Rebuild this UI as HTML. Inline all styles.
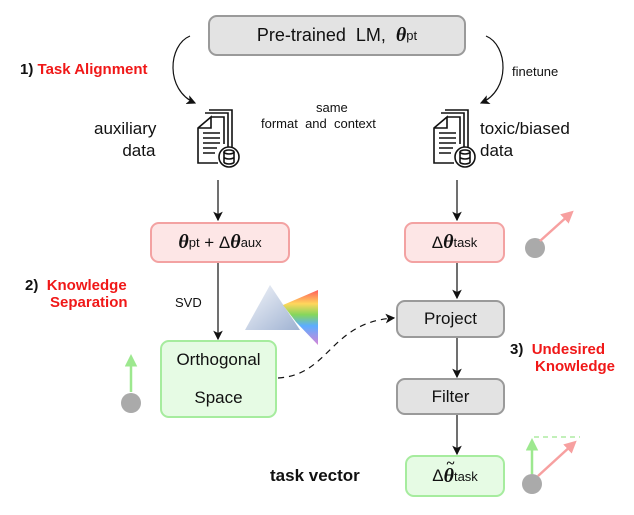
<!DOCTYPE html>
<html><head><meta charset="utf-8"><style>
html,body{margin:0;padding:0;background:#fff;}
body{width:634px;height:515px;position:relative;overflow:hidden;font-family:"Liberation Sans",sans-serif;}
.t{position:absolute;white-space:nowrap;color:#111;}
.box{position:absolute;box-sizing:border-box;border-radius:9px;display:flex;align-items:center;justify-content:center;font-size:17px;color:#111;}
.gray{background:#e3e3e3;border:2px solid #9a9a9a;}
.pink{background:#fde6e6;border:2px solid #f3a2a2;}
.green{background:#e6fbe4;border:2px solid #a6ec9e;}
.red{color:#f01818;}
b{font-weight:bold;}
sub{font-size:13px;vertical-align:-4px;}
i.th{font-family:"Liberation Serif",serif;font-weight:bold;font-style:italic;font-size:20px;position:relative;}
.tl{position:absolute;left:3px;top:-9px;font-style:normal;font-size:15px;}
</style></head><body>
<svg width="634" height="515" style="position:absolute;left:0;top:0">
<defs>
<marker id="a" markerWidth="8" markerHeight="8" refX="7" refY="4" orient="auto"><path d="M0,0 L8,4 L0,8 L2,4z" fill="#111"/></marker>
<marker id="p" markerWidth="5" markerHeight="5" refX="3" refY="2.5" orient="auto"><path d="M0,0 L5,2.5 L0,5z" fill="#f7a0a0"/></marker>
<marker id="g" markerWidth="5" markerHeight="5" refX="3" refY="2.5" orient="auto"><path d="M0,0 L5,2.5 L0,5z" fill="#9de88f"/></marker>
<linearGradient id="pr" x1="0" y1="0" x2="1" y2="1"><stop offset="0" stop-color="#f4f6fa"/><stop offset="1" stop-color="#9fb2d2"/></linearGradient>
<linearGradient id="rb" x1="0" y1="0" x2="0" y2="1"><stop offset="0" stop-color="#f33"/><stop offset=".25" stop-color="#fc3"/><stop offset=".45" stop-color="#6c3"/><stop offset=".65" stop-color="#39f"/><stop offset="1" stop-color="#c6c"/></linearGradient>
</defs>
<g fill="none" stroke="#111" stroke-width="1.2">
<path d="M190,36 C168,45 165,90 195,103" marker-end="url(#a)"/>
<path d="M486,36 C508,45 511,90 481,103" marker-end="url(#a)"/>
<path d="M218,180 L218,220" marker-end="url(#a)"/>
<path d="M457,180 L457,220" marker-end="url(#a)"/>
<path d="M218,263 L218,339" marker-end="url(#a)"/>
<path d="M457,263 L457,298" marker-end="url(#a)"/>
<path d="M457,338 L457,377" marker-end="url(#a)"/>
<path d="M457,415 L457,454" marker-end="url(#a)"/>
<path d="M278,378 C330,375 330,322 394,318" stroke-dasharray="6,5" marker-end="url(#a)"/>
</g>
<g id="doc" fill="none" stroke="#111" stroke-width="1.6">
<path d="M209,110 L232,110 L232,150"/>
<path d="M205,113 L228,113 L228,150"/>
<path d="M211,117 L224,117 L224,144 M218,163 L198,163 L198,128 L211,117 L211,128 L198,128"/>
<path d="M203,133h17M203,138h17M203,143h17M203,148h14M203,153h12"/>
<circle cx="229" cy="157" r="10" fill="#fff"/>
<ellipse cx="229" cy="152" rx="5" ry="2"/><path d="M224,152v10M234,152v10M224,157a5,2 0 0 0 10,0M224,162a5,2 0 0 0 10,0"/>
</g>
<use href="#doc" x="236" y="0"/>
<path d="M270,285 L245,330 L300,330 Z" fill="url(#pr)"/>
<path d="M283,305 L318,290 L318,345 L296,322 Z" fill="url(#rb)" opacity=".8"/>
<circle cx="535" cy="248" r="10" fill="#aaa"/>
<path d="M540,241 L570,214" stroke="#f7a0a0" stroke-width="2.5" marker-end="url(#p)"/>
<circle cx="131" cy="403" r="10" fill="#aaa"/>
<path d="M131,392 L131,359" stroke="#9de88f" stroke-width="2.5" marker-end="url(#g)"/>
<circle cx="532" cy="484" r="10" fill="#aaa"/>
<path d="M532,474 L532,443" stroke="#9de88f" stroke-width="2.5" marker-end="url(#g)"/>
<path d="M538,476 L573,444" stroke="#f7a0a0" stroke-width="2.5" marker-end="url(#p)"/>
<path d="M534,437 L580,437" stroke="#9de88f" stroke-width="1.3" stroke-dasharray="5,4"/>
</svg>
<div class="box gray" style="left:208px;top:15px;width:258px;height:41px;font-size:18px;">Pre-trained&nbsp; LM,&nbsp;<i class="th">&nbsp;θ</i><sub>pt</sub></div>
<div class="t" style="left:20px;top:61px;font-size:15px;"><b>1) <span class="red">Task Alignment</span></b></div>
<div class="t" style="left:512px;top:64px;font-size:13px;">finetune</div>
<div class="t" style="left:94px;top:118px;font-size:17px;line-height:22px;">auxiliary<br>&nbsp;&nbsp;&nbsp;&nbsp;&nbsp;&nbsp;data</div>
<div class="t" style="left:480px;top:118px;font-size:17px;line-height:22px;">toxic/biased<br>data</div>
<div class="t" style="left:316px;top:100px;font-size:13px;">same</div>
<div class="t" style="left:261px;top:116px;font-size:13px;">format&nbsp; and&nbsp; context</div>
<div class="box pink" style="left:150px;top:222px;width:140px;height:41px;"><i class="th">θ</i><sub>pt</sub>&nbsp;+&nbsp;Δ<i class="th">θ</i><sub>aux</sub></div>
<div class="box pink" style="left:404px;top:222px;width:101px;height:41px;">Δ<i class="th">θ</i><sub>task</sub></div>
<div class="t" style="left:25px;top:277px;font-size:15px;line-height:17px;"><b>2)&nbsp; <span class="red">Knowledge<br>&nbsp;&nbsp;&nbsp;&nbsp;&nbsp;&nbsp;Separation</span></b></div>
<div class="t" style="left:175px;top:295px;font-size:13px;">SVD</div>
<div class="box green" style="left:160px;top:340px;width:117px;height:78px;"><div style="text-align:center;line-height:38px;">Orthogonal<br>Space</div></div>
<div class="box gray" style="left:396px;top:300px;width:109px;height:38px;">Project</div>
<div class="t" style="left:510px;top:341px;font-size:15px;line-height:17px;"><b>3)&nbsp; <span class="red">Undesired<br>&nbsp;&nbsp;&nbsp;&nbsp;&nbsp;&nbsp;Knowledge</span></b></div>
<div class="box gray" style="left:396px;top:378px;width:109px;height:37px;">Filter</div>
<div class="t" style="left:270px;top:466px;font-size:17px;"><b>task vector</b></div>
<div class="box green" style="left:405px;top:455px;width:100px;height:42px;">Δ<i class="th">θ<span class="tl">~</span></i><sub>task</sub></div>
</body></html>
